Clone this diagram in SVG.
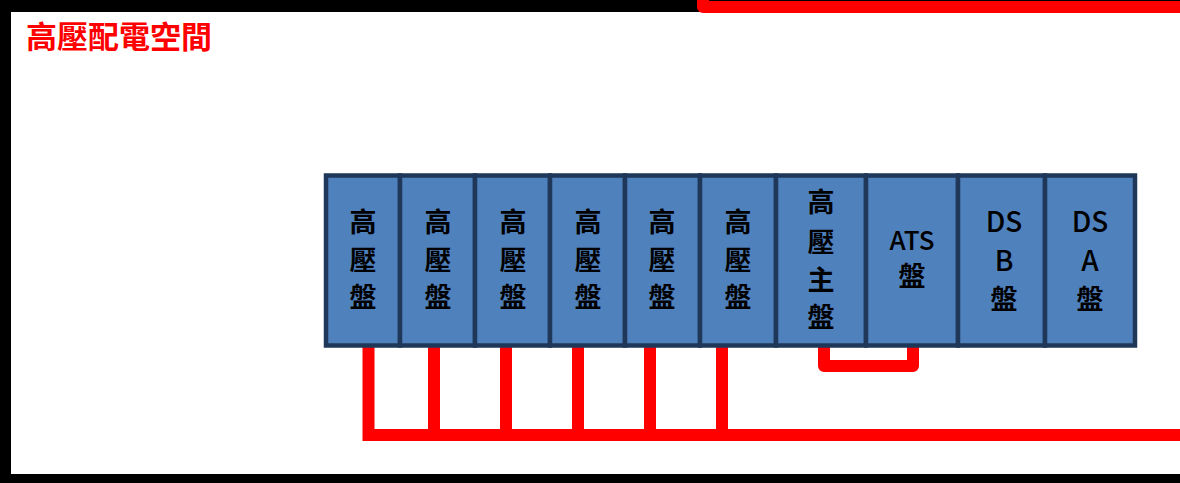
<svg xmlns="http://www.w3.org/2000/svg" width="1180" height="483" viewBox="0 0 1180 483">
<style>
.panel{fill:#4F81BD;stroke:#1F3859;stroke-width:4.5}
.t{font-family:"Noto Sans CJK TC","Noto Sans CJK SC",sans-serif;font-size:27px;font-weight:bold;fill:#000;text-anchor:middle}
.l{font-family:"Noto Sans CJK TC","Noto Sans",sans-serif;fill:#000;text-anchor:middle}
.red{fill:none;stroke:#FF0000;stroke-width:12}
</style>
<rect width="1180" height="483" fill="#fff"/>
<g id="room">
<rect x="5" y="6" width="1200" height="474" fill="none" stroke="#000" stroke-width="12"/>
<text x="26" y="48" font-family="'Noto Sans CJK TC','Noto Sans CJK SC',sans-serif" font-size="31" font-weight="bold" fill="#FF0000">高壓配電空間</text>
</g>
<g id="connectors">
<path class="red" d="M703,-10 V7 H1195" stroke-linejoin="round"/>
<path class="red" d="M368.5,347 V435 H1195"/>
<path class="red" d="M434,347 V435 M506,347 V435 M578,347 V435 M650,347 V435 M722,347 V435"/>
<path class="red" d="M824,347 V366 H913 V347" stroke-linejoin="round"/>
</g>
<g id="p1"><rect class="panel" x="326" y="175.5" width="74" height="170"/>
<text class="t" x="363" y="232">高</text><text class="t" x="363" y="270">壓</text><text class="t" x="363" y="307">盤</text></g>
<g id="p2"><rect class="panel" x="400" y="175.5" width="75" height="170"/>
<text class="t" x="438" y="232">高</text><text class="t" x="438" y="270">壓</text><text class="t" x="438" y="307">盤</text></g>
<g id="p3"><rect class="panel" x="475" y="175.5" width="75" height="170"/>
<text class="t" x="513" y="232">高</text><text class="t" x="513" y="270">壓</text><text class="t" x="513" y="307">盤</text></g>
<g id="p4"><rect class="panel" x="550" y="175.5" width="75" height="170"/>
<text class="t" x="588" y="232">高</text><text class="t" x="588" y="270">壓</text><text class="t" x="588" y="307">盤</text></g>
<g id="p5"><rect class="panel" x="625" y="175.5" width="75" height="170"/>
<text class="t" x="662" y="232">高</text><text class="t" x="662" y="270">壓</text><text class="t" x="662" y="307">盤</text></g>
<g id="p6"><rect class="panel" x="700" y="175.5" width="76" height="170"/>
<text class="t" x="738" y="232">高</text><text class="t" x="738" y="270">壓</text><text class="t" x="738" y="307">盤</text></g>
<g id="p7"><rect class="panel" x="776" y="175.5" width="90" height="170"/>
<text class="t" x="821" y="212">高</text><text class="t" x="821" y="252">壓</text><text class="t" x="821" y="290">主</text><text class="t" x="821" y="327">盤</text></g>
<g id="ats"><rect class="panel" x="866" y="175.5" width="92" height="170"/>
<text class="l" x="912" y="250" font-size="26" font-weight="500">ATS</text><text class="t" x="912" y="286">盤</text></g>
<g id="dsb"><rect class="panel" x="958" y="175.5" width="87" height="170"/>
<text class="l" x="1004" y="232" font-size="28" font-weight="500">DS</text><text class="l" x="1004" y="271" font-size="28" font-weight="500">B</text><text class="t" x="1004" y="309">盤</text></g>
<g id="dsa"><rect class="panel" x="1045" y="175.5" width="90" height="170"/>
<text class="l" x="1090" y="232" font-size="28" font-weight="500">DS</text><text class="l" x="1090" y="271" font-size="28" font-weight="500">A</text><text class="t" x="1090" y="309">盤</text></g>
</svg>
